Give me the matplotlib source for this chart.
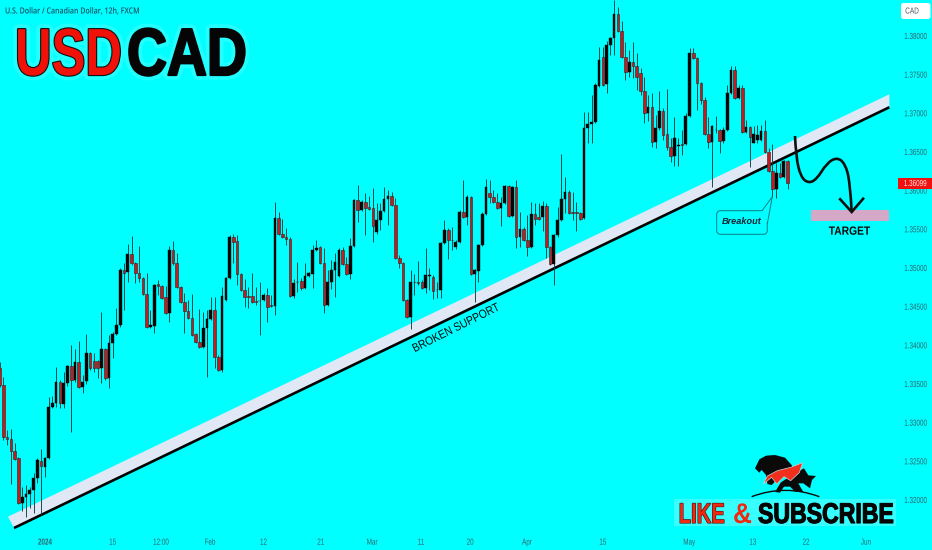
import numpy as np
import matplotlib
matplotlib.use("Agg")
import matplotlib.pyplot as plt
from matplotlib.patches import PathPatch, Rectangle, FancyBboxPatch, Polygon
from matplotlib.path import Path
from matplotlib.transforms import Affine2D
from matplotlib.colors import to_rgba
import matplotlib.patheffects as pe

# ---- data: USD/CAD 12h candles ----
opens = [1.33701,1.33481,1.32809,1.32783,1.32628,1.32537,1.31955,1.32033,1.32072,1.32123,
1.32278,1.32498,1.32421,1.32537,1.33196,1.33248,1.33520,1.33235,1.33507,1.33727,
1.33546,1.33778,1.33455,1.33533,1.33895,1.33791,1.33791,1.33701,1.33946,1.33571,
1.34024,1.34140,1.34257,1.34968,1.34942,1.35175,1.35058,1.34929,1.34864,1.34658,
1.34231,1.34244,1.34787,1.34761,1.34619,1.34412,1.35227,1.35058,1.34748,1.34554,
1.34438,1.34347,1.34140,1.34037,1.33972,1.34218,1.34334,1.34451,1.33843,1.33675,
1.34580,1.34864,1.35395,1.35343,1.34916,1.34709,1.34632,1.34632,1.34567,1.34567,
1.34580,1.34645,1.34509,1.34502,1.35640,1.35433,1.35395,1.35369,1.34632,1.34813,
1.34826,1.34735,1.34890,1.34916,1.35227,1.35265,1.35058,1.34515,1.34813,1.34968,
1.34890,1.35227,1.35045,1.34916,1.35278,1.35873,1.35744,1.35847,1.35776,1.35770,
1.35459,1.35614,1.35731,1.35886,1.35925,1.35808,1.35123,1.35058,1.34580,1.34360,
1.34813,1.34813,1.34813,1.34735,1.34890,1.34877,1.34709,1.34709,1.35317,1.35485,
1.35356,1.35265,1.35330,1.35718,1.35653,1.35912,1.34916,1.34955,1.35291,1.35692,
1.35963,1.35912,1.35847,1.35770,1.35834,1.36054,1.35666,1.36041,1.35395,1.35498,
1.35356,1.35265,1.35692,1.35653,1.35653,1.35795,1.35265,1.35045,1.35420,1.35614,
1.35886,1.35977,1.35718,1.35718,1.35699,1.35640,1.36804,1.36856,1.36881,1.37347,
1.37722,1.37373,1.37877,1.37968,1.38278,1.38058,1.37722,1.37528,1.37657,1.37606,
1.37515,1.37282,1.36998,1.37075,1.36623,1.36804,1.37024,1.36726,1.36558,1.36442,1.36571,
1.36597,1.36597,1.36959,1.37774,1.37709,1.37386,1.37166,1.36726,1.36623,1.36778,
1.36778,1.36636,1.36778,1.37256,1.37554,1.37192,1.37321,1.36752,1.36817,1.36610,
1.36649,1.36649,1.36765,1.36494,1.36248,1.36015,1.36222,1.36170,1.36377]
closes = [1.33481,1.32809,1.32777,1.32628,1.32524,1.31955,1.32033,1.32072,1.32123,1.32278,
1.32511,1.32434,1.32537,1.33196,1.33248,1.33520,1.33248,1.33507,1.33727,1.33546,
1.33778,1.33455,1.33520,1.33895,1.33701,1.33701,1.33701,1.33946,1.33571,1.34024,
1.34140,1.34257,1.34968,1.34929,1.35175,1.35058,1.34929,1.34864,1.34658,1.34231,
1.34257,1.34774,1.34761,1.34606,1.34412,1.35227,1.35058,1.34748,1.34554,1.34438,
1.34347,1.34127,1.34037,1.33972,1.34218,1.34334,1.34451,1.33843,1.33675,1.34632,
1.34864,1.35395,1.35330,1.34916,1.34709,1.34619,1.34619,1.34554,1.34560,1.34567,
1.34645,1.34489,1.34502,1.35640,1.35433,1.35395,1.35369,1.34632,1.34800,1.34813,
1.34735,1.34890,1.34923,1.35227,1.35252,1.35058,1.34515,1.34813,1.34968,1.35071,
1.35227,1.35045,1.34916,1.35278,1.35873,1.35744,1.35847,1.35770,1.35760,1.35537,
1.35614,1.35731,1.35886,1.35925,1.35808,1.35123,1.35058,1.34580,1.34360,1.34813,
1.34807,1.34806,1.34735,1.34903,1.34903,1.34696,1.34709,1.35317,1.35485,1.35356,
1.35350,1.35330,1.35718,1.35653,1.35912,1.34916,1.34968,1.35291,1.35692,1.36041,
1.35912,1.35847,1.35770,1.35834,1.36054,1.35666,1.36041,1.35395,1.35498,1.35356,
1.35265,1.35692,1.35627,1.35627,1.35795,1.35265,1.35045,1.35420,1.35614,1.35886,
1.35977,1.35705,1.35705,1.35699,1.35627,1.36804,1.36856,1.36881,1.37360,1.37683,
1.37360,1.37877,1.37968,1.38278,1.38058,1.37722,1.37528,1.37657,1.37606,1.37463,
1.37282,1.36998,1.37075,1.36623,1.36804,1.37024,1.36713,1.36558,1.36442,1.36675,1.36584,
1.36590,1.36959,1.37774,1.37709,1.37386,1.37166,1.36726,1.36623,1.36830,1.36778,
1.36636,1.36778,1.37256,1.37554,1.37192,1.37321,1.36752,1.36817,1.36688,1.36726,
1.36713,1.36765,1.36494,1.36248,1.36015,1.36222,1.36170,1.36377,1.36099]
highs = [1.33778,1.33584,1.32899,1.32912,1.32731,1.32550,1.32162,1.32188,1.32162,1.32343,
1.32537,1.32653,1.32550,1.33326,1.33339,1.33714,1.33546,1.33649,1.33740,1.33998,
1.33946,1.34050,1.33610,1.34140,1.33908,1.33895,1.33804,1.34425,1.33959,1.34127,
1.34166,1.34477,1.34994,1.35058,1.35304,1.35407,1.35071,1.35278,1.34877,1.34929,
1.34451,1.34787,1.34839,1.34774,1.34761,1.35278,1.35343,1.35188,1.34761,1.34670,
1.34580,1.34658,1.34153,1.34464,1.34425,1.34451,1.34619,1.34619,1.33869,1.34748,
1.34877,1.35420,1.35433,1.35420,1.34929,1.34851,1.34748,1.34929,1.34748,1.34813,
1.34671,1.34735,1.34645,1.35847,1.35718,1.35627,1.35511,1.35395,1.34851,1.35071,
1.34864,1.35058,1.34942,1.35291,1.35356,1.35278,1.35252,1.34968,1.35097,1.35188,
1.35252,1.35265,1.35136,1.35382,1.35886,1.36067,1.35873,1.35963,1.35925,1.36028,
1.35834,1.35834,1.36041,1.36002,1.35976,1.35899,1.35162,1.35071,1.34593,1.34968,
1.34916,1.35084,1.34839,1.35252,1.34994,1.34903,1.34813,1.35330,1.35614,1.35511,
1.35524,1.35356,1.35744,1.36132,1.35938,1.35925,1.34981,1.35304,1.35718,1.36144,
1.36132,1.36002,1.35963,1.35912,1.36067,1.36067,1.36054,1.36132,1.35718,1.35524,
1.35679,1.35847,1.35834,1.35834,1.35860,1.35834,1.35278,1.35433,1.35782,1.36468,
1.36170,1.36002,1.35977,1.35847,1.35718,1.37011,1.37011,1.37231,1.37386,1.37851,
1.37851,1.37929,1.37981,1.38459,1.38368,1.38187,1.37916,1.37812,1.37916,1.37774,
1.37580,1.37463,1.37231,1.37256,1.36972,1.37282,1.37063,1.37308,1.36675,1.36946,
1.36675,1.36778,1.36998,1.37838,1.37838,1.37722,1.37399,1.37205,1.36946,1.36843,
1.36959,1.36791,1.36817,1.37360,1.37606,1.37606,1.37360,1.37360,1.36907,1.36830,
1.36830,1.36843,1.36843,1.36907,1.36545,1.36597,1.36351,1.36351,1.36390,1.36390]
lows = [1.33455,1.32770,1.32705,1.32201,1.32511,1.31942,1.31852,1.31774,1.31891,1.31826,
1.32214,1.31800,1.32291,1.32524,1.33184,1.33196,1.33184,1.33184,1.33468,1.32873,
1.33520,1.33442,1.33377,1.33494,1.33675,1.33649,1.33571,1.33507,1.33546,1.33442,
1.33830,1.34127,1.34231,1.34451,1.34813,1.35032,1.34800,1.34813,1.34645,1.34218,
1.34218,1.34153,1.34645,1.34593,1.34400,1.34295,1.35032,1.34735,1.34541,1.34153,
1.34340,1.34114,1.34024,1.33959,1.33959,1.33584,1.34321,1.33701,1.33662,1.33649,
1.34567,1.34851,1.35058,1.34774,1.34696,1.34489,1.34477,1.34541,1.34515,1.34127,
1.34567,1.34295,1.34489,1.34386,1.35420,1.35382,1.35291,1.34619,1.34606,1.34683,
1.34709,1.34722,1.34877,1.34735,1.35214,1.35045,1.34412,1.34502,1.34722,1.34619,
1.34877,1.35032,1.34903,1.34851,1.35265,1.35588,1.35731,1.35420,1.35744,1.35330,
1.35433,1.35485,1.35718,1.35550,1.35795,1.35110,1.34994,1.34567,1.34347,1.34205,
1.34645,1.34774,1.34722,1.34670,1.34709,1.34593,1.34606,1.34606,1.35304,1.35110,
1.35227,1.35239,1.35317,1.35640,1.35550,1.34903,1.34554,1.34813,1.35278,1.35679,
1.35834,1.35834,1.35757,1.35537,1.35821,1.35653,1.35653,1.35252,1.35265,1.35343,
1.35149,1.35252,1.35550,1.35614,1.35472,1.35123,1.35032,1.34774,1.35395,1.35601,
1.35705,1.35692,1.35614,1.35472,1.35614,1.35627,1.36610,1.36610,1.36869,1.37334,
1.37347,1.37256,1.37748,1.37748,1.38045,1.37709,1.37425,1.37463,1.37450,1.37295,
1.37231,1.36869,1.36894,1.36558,1.36545,1.36778,1.36649,1.36520,1.36364,1.36312,
1.36312,1.36455,1.36584,1.36946,1.37696,1.37037,1.37114,1.36713,1.36545,1.36041,
1.36739,1.36481,1.36610,1.36765,1.37243,1.37179,1.37179,1.36739,1.36739,1.36300,
1.36604,1.36610,1.36636,1.36481,1.36235,1.35912,1.35899,1.36157,1.36157,1.36015]

price_ticks = [1.38,1.375,1.37,1.365,1.36,1.355,1.35,1.345,1.34,1.335,1.33,1.325,1.32]
price_labels = ["1.38000","1.37500","1.37000","1.36500","1.36000","1.35500","1.35000",
                "1.34500","1.34000","1.33500","1.33000","1.32500","1.32000"]
date_ticks = [12.03,30,42.8,55.8,70,85.2,98.8,111.8,124.8,139.9,160,182.9,199.8,213.9,229.8]
date_labels = ["2024","15","12:00","Feb","12","21","Mar","11","20","Apr","15","May","13","22","Jun"]
last_price = 1.36099

support_x = [3.81,236.0]
support_y = [1.31632,1.37072]
band_x = [2.22,236.0,236.0,3.81]
band_y = [1.31778,1.37240,1.37072,1.31632]
target_x = [215.1,236.0]
target_y = [1.35601,1.35744]

CYAN = "#00FFFF"
BULL = "#050505"
BEAR = "#C8191C"
AXTXT = "#2F6470"
SANS = ["Liberation Sans","DejaVu Sans"]


class Squeeze(pe.AbstractPathEffect):
    """Draw a real text narrower along its own direction, with an optional stroke."""
    def __init__(self, sx, anchor="left", lw=0, ec=None, alpha=1.0):
        self.sx, self.anchor, self.lw, self.ec, self.alpha = sx, anchor, lw, ec, alpha

    def draw_path(self, renderer, gc, tpath, affine, rgbFace=None):
        ext = tpath.get_extents()
        m = {"left": 0.0, "center": (ext.x0 + ext.x1) / 2, "right": ext.x1}[self.anchor]
        a = Affine2D().translate(-m, 0).scale(self.sx, 1).translate(m, 0) + affine
        g = renderer.new_gc()
        g.copy_properties(gc)
        if self.lw:
            g.set_linewidth(self.lw)
            g.set_foreground(self.ec)
            g.set_alpha(self.alpha)
            renderer.draw_path(g, tpath, a, to_rgba(self.ec, self.alpha))
        else:
            renderer.draw_path(g, tpath, a, rgbFace)
        g.restore()


fig = plt.figure(figsize=(9.32,5.5),dpi=100,facecolor=CYAN)
ax = fig.add_axes([0,20/550,895/932,530/550],facecolor=CYAN)
ax.set_xlim(0.098,237.5)
ax.set_ylim(1.31606,1.38459)
for s in ax.spines.values():
    s.set_visible(False)
ax.yaxis.tick_right()
ax.set_yticks(price_ticks,price_labels,fontsize=6.3,color=AXTXT,family=SANS)
ax.set_xticks(date_ticks,date_labels,fontsize=6.3,color=AXTXT,family=SANS)
ax.tick_params(axis="both",length=0)
ax.tick_params(axis="y",pad=23.2)
ax.tick_params(axis="x",pad=5.5)
for t in ax.get_yticklabels():
    t.set_ha("right")
    t.set_path_effects([Squeeze(0.72,"right")])
for t in ax.get_xticklabels():
    t.set_path_effects([Squeeze(0.72,"center")])
ax.get_xticklabels()[0].set_fontweight("bold")

# support band and line
ax.fill(band_x,band_y,color="#E0E8F6",lw=0,zorder=1)
ax.plot(support_x,support_y,color="black",lw=1.9,solid_capstyle="butt",zorder=2)

# candles
o = np.array(opens); c = np.array(closes); h = np.array(highs); l = np.array(lows)
idx = np.arange(len(o))
up = c >= o
ax.vlines(idx,l,h,color="#123c40",lw=0.65,zorder=3)
ax.bar(idx[up],(c-o)[up],bottom=o[up],width=0.7,color=BULL,edgecolor=BULL,lw=0.3,zorder=4)
ax.bar(idx[~up],(o-c)[~up],bottom=c[~up],width=0.7,color=BEAR,edgecolor="#3a2a2a",lw=0.45,zorder=4)

# target zone
ax.add_patch(Rectangle((target_x[0],target_y[0]),target_x[1]-target_x[0],target_y[1]-target_y[0],
                       facecolor="#D6A8C8",lw=0,zorder=2))

# everything below is placed in picture pixels (y downward)
px = Affine2D().scale(1,-1).translate(0,550)

def smooth(pts):
    verts=[pts[0]]; codes=[Path.MOVETO]
    for a,b in zip(pts[1:-2],pts[2:-1]):
        verts += [a,((a[0]+b[0])/2,(a[1]+b[1])/2)]
        codes += [Path.CURVE3,Path.CURVE3]
    verts += [pts[-2],pts[-1]]; codes += [Path.CURVE3,Path.CURVE3]
    return Path(verts,codes)

curve = [(795,136),(796,157),(800.7,176.7),(808.3,183.3),(816.7,179.3),(826.7,163.3),
         (836.7,157.3),(845,163.3),(850,181.7),(851.7,211.7)]
ax.add_patch(PathPatch(smooth(curve),fc="none",ec="#101010",lw=1.9,transform=px,zorder=6,clip_on=False))
ax.add_patch(PathPatch(Path([(839.3,198.3),(851.7,212),(864,197.7)]),fc="none",ec="#101010",lw=1.9,
                       transform=px,zorder=6,clip_on=False))
ax.text(849.3,231.7,"TARGET",transform=px,ha="center",va="center",fontsize=8.6,fontweight="bold",
        color="#0a0a0a",family=SANS,zorder=6,path_effects=[Squeeze(0.86,"center")])

# breakout callout
ax.add_patch(FancyBboxPatch((719.5,213.5),45,18,boxstyle="round,pad=2.8,rounding_size=4",transform=px,
                            fc=CYAN,ec="#0E7C86",lw=0.7,zorder=5,clip_on=False))
ax.add_patch(PathPatch(Path([(762,210.8),(772.3,196.7),(767.3,224)]),fc=CYAN,ec="#0E7C86",lw=0.7,
                       transform=px,zorder=5,clip_on=False))
ax.text(741.7,221.7,"Breakout",transform=px,ha="center",va="center",fontsize=6.6,fontstyle="italic",
        fontweight="bold",color="#123",family=SANS,zorder=6)

ax.text(455.7,328.5,"BROKEN SUPPORT",transform=px,ha="center",va="center",rotation=26.5,rotation_mode="anchor",
        fontsize=8.6,color="#0a0a0a",family=SANS,zorder=6,path_effects=[Squeeze(0.86,"center")])

# header
ax.text(5,11,"U.S. Dollar / Canadian Dollar, 12h, FXCM",transform=px,ha="left",va="center",fontsize=6.1,
        fontweight="semibold",color="#145468",family=["Open Sans","DejaVu Sans"],zorder=7,
        path_effects=[Squeeze(0.83,"left")])
ax.text(15,75,"USD",transform=px,ha="left",va="baseline",fontsize=48,fontweight="bold",color="#F01208",
        family=SANS,zorder=7,path_effects=[Squeeze(0.76,"left",7,"#66FFFF",0.35),
                                           Squeeze(0.76,"left",1.6,"#101010"),Squeeze(0.76,"left")])
ax.text(127,75,"CAD",transform=px,ha="left",va="baseline",fontsize=48,fontweight="bold",color="#050505",
        family=SANS,zorder=7,path_effects=[Squeeze(0.83,"left",7,"#66FFFF",0.35),
                                           Squeeze(0.83,"left",1.6,"#050505"),Squeeze(0.83,"left")])

# price scale badges
ax.add_patch(FancyBboxPatch((902.5,4.5),26.5,13,boxstyle="round,pad=1.5,rounding_size=2.5",transform=px,
                            fc="white",ec="none",zorder=7,clip_on=False))
ax.text(912,11,"CAD",transform=px,ha="center",va="center",fontsize=6.2,color="#4a5560",family=SANS,zorder=8,
        path_effects=[Squeeze(0.75,"center")])
ax.add_patch(Rectangle((898,178),34,11,transform=px,fc="#F01010",ec="none",zorder=7,clip_on=False))
ax.text(927,183.5,f"{last_price:.5f}",transform=px,ha="right",va="center",fontsize=6.3,color="#FFE8E8",
        family=SANS,zorder=8,path_effects=[Squeeze(0.72,"right")])

# like & subscribe badge
ax.add_patch(Rectangle((674,499),222,27,transform=px,fc="#38FFFF",ec="none",zorder=7,clip_on=False))
ax.text(725,523,"LIKE",transform=px,ha="right",va="baseline",fontsize=20.5,fontweight="bold",color="#F02810",
        family=SANS,zorder=8,clip_on=False,
        path_effects=[Squeeze(0.71,"right",0.8,"#401010"),Squeeze(0.71,"right")])
ax.text(733,523,"&",transform=px,ha="left",va="baseline",fontsize=20.5,fontweight="bold",color="#F02810",
        family=SANS,zorder=8,clip_on=False,path_effects=[Squeeze(0.92,"left")])
ax.text(758,523,"SUBSCRIBE",transform=px,ha="left",va="baseline",fontsize=20.5,fontweight="bold",color="#050505",
        family=SANS,zorder=8,clip_on=False,
        path_effects=[Squeeze(0.81,"left",0.8,"#050505"),Squeeze(0.81,"left")])

# bull & bear logo, traced in zoomed-crop coordinates
logo = Affine2D().scale(1/3).translate(660,440) + px
bear = [(285,85),(298,58),(318,47),(345,45),(375,53),(395,75),(400,88),(345,125),(335,135),(322,132),
        (318,105),(305,90),(298,98)]
bull = [(345,156),(362,128),(395,105),(432,85),(445,106),(468,108),(456,120),(450,145),(430,130),(415,130),
        (430,156),(406,156),(390,140),(372,140),(360,158)]
arrow = [(310,132),(322,108),(352,92),(392,82),(428,68),(418,98),(392,122),(372,110),(350,132),(335,112)]
ax.add_patch(Polygon(bear,closed=True,fc="#0a0a0a",ec="none",transform=logo,zorder=7,clip_on=False))
ax.add_patch(Polygon(bull,closed=True,fc="#0a0a0a",ec="none",transform=logo,zorder=7,clip_on=False))
ax.add_patch(Polygon(arrow,closed=True,fc="#F0301C",ec="#C8D8D8",lw=0.5,transform=logo,zorder=8,clip_on=False))
ax.add_patch(PathPatch(Path([(275,170),(375,132),(478,170)],[Path.MOVETO,Path.CURVE3,Path.CURVE3]),fc="none",
                       ec="#0a0a0a",lw=1.0,transform=logo,zorder=7,clip_on=False))

fig.savefig("out.png",dpi=100,facecolor=CYAN)
